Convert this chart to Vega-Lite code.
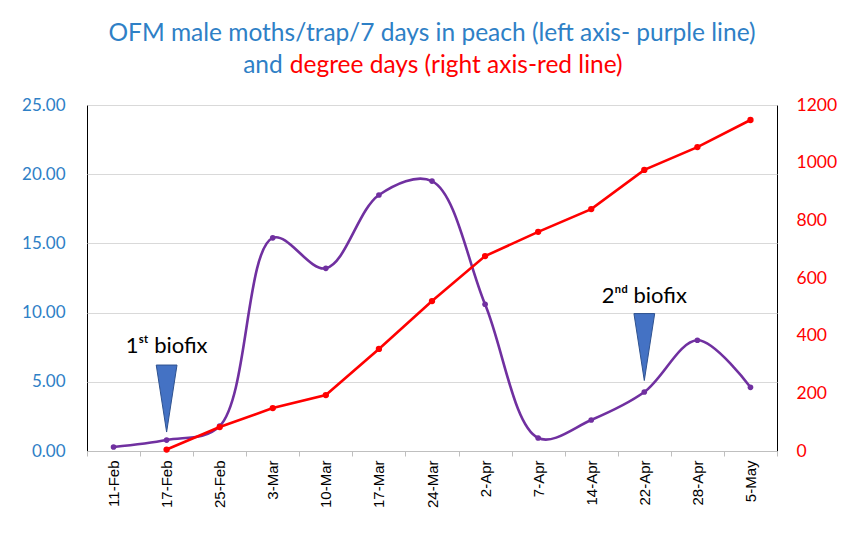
{
  "$schema": "https://vega.github.io/schema/vega-lite/v6.json",
  "width": 690,
  "height": 346,
  "autosize": {"type": "none"},
  "padding": {"left": 87, "top": 105, "right": 66, "bottom": 103},
  "background": "white",
  "title": {
    "text": "OFM male moths/trap/7 days in peach (left axis- purple line)",
    "color": "#2E80C6",
    "font": "Lato",
    "fontSize": 24.5,
    "fontWeight": "normal",
    "anchor": "middle",
    "offset": 7
  },
  "config": {
    "view": {"stroke": "#000000", "strokeWidth": 1},
    "axis": {"labelFont": "Lato", "titleFont": "Lato"}
  },
  "datasets": {
    "main": [
      {"date": "11-Feb", "moths": 0.29, "dd": null},
      {"date": "17-Feb", "moths": 0.79, "dd": 5},
      {"date": "25-Feb", "moths": 1.8, "dd": 83},
      {"date": "3-Mar", "moths": 15.4, "dd": 149},
      {"date": "10-Mar", "moths": 13.2, "dd": 194},
      {"date": "17-Mar", "moths": 18.5, "dd": 354},
      {"date": "24-Mar", "moths": 19.5, "dd": 520},
      {"date": "2-Apr", "moths": 10.6, "dd": 676},
      {"date": "7-Apr", "moths": 0.94, "dd": 760},
      {"date": "14-Apr", "moths": 2.24, "dd": 839},
      {"date": "22-Apr", "moths": 4.26, "dd": 975},
      {"date": "28-Apr", "moths": 8.0, "dd": 1054},
      {"date": "5-May", "moths": 4.6, "dd": 1148}
    ],
    "markers": [
      {"date": "17-Feb", "y": 3.79, "label": "1ˢᵗ biofix", "ly": 7.6},
      {"date": "22-Apr", "y": 7.51, "label": "2ⁿᵈ biofix", "ly": 11.2}
    ],
    "line2": [
      {"date": "3-Mar", "y": 27.8}
    ]
  },
  "encoding": {
    "x": {
      "field": "date",
      "type": "ordinal",
      "sort": null,
      "scale": {
        "domain": ["11-Feb", "17-Feb", "25-Feb", "3-Mar", "10-Mar", "17-Mar", "24-Mar", "2-Apr", "7-Apr", "14-Apr", "22-Apr", "28-Apr", "5-May"],
        "paddingInner": 0,
        "paddingOuter": 0
      },
      "axis": {
        "title": null,
        "labelAngle": -90,
        "labelFont": "Liberation Sans",
        "labelFontSize": 15,
        "labelColor": "#000000",
        "labelPadding": 4,
        "tickBand": "extent",
        "tickColor": "#bfbfbf",
        "tickSize": 5,
        "domainColor": "#bfbfbf",
        "grid": false
      }
    }
  },
  "layer": [
    {
      "layer": [
        {
          "data": {"name": "main"},
          "mark": {"type": "line", "interpolate": "catmull-rom", "color": "#7030A0", "strokeWidth": 2.6},
          "encoding": {
            "y": {
              "field": "moths",
              "type": "quantitative",
              "scale": {"domain": [0, 25], "nice": false, "zero": true},
              "axis": {
                "title": null,
                "values": [0, 5, 10, 15, 20, 25],
                "format": ".2f",
                "labelColor": "#2E80C6",
                "labelFontSize": 17,
                "labelPadding": 22,
                "ticks": false,
                "domain": false,
                "gridColor": "#d9d9d9",
                "grid": true
              }
            }
          }
        },
        {
          "data": {"name": "main"},
          "mark": {"type": "point", "filled": true, "color": "#7030A0", "size": 32, "opacity": 1},
          "encoding": {"y": {"field": "moths", "type": "quantitative"}}
        },
        {
          "data": {"name": "markers"},
          "mark": {"type": "point", "shape": "M -0.31 -1 L 0.31 -1 L 0 1 Z", "size": 4489, "filled": true, "fill": "#4472C4", "stroke": "#2F528F", "strokeWidth": 1, "opacity": 1},
          "encoding": {"y": {"field": "y", "type": "quantitative"}}
        },
        {
          "data": {"name": "markers"},
          "mark": {"type": "text", "font": "Lato", "fontSize": 22, "color": "#000000", "align": "center", "baseline": "middle"},
          "encoding": {"y": {"field": "ly", "type": "quantitative"}, "text": {"field": "label"}}
        },
        {
          "data": {"name": "line2"},
          "mark": {"type": "text", "font": "Lato", "fontSize": 24.5, "color": "#2E80C6", "align": "right", "baseline": "middle", "dx": 10},
          "encoding": {"y": {"field": "y", "type": "quantitative"}, "text": {"value": "and"}}
        },
        {
          "data": {"name": "line2"},
          "mark": {"type": "text", "font": "Lato", "fontSize": 24.5, "color": "#FF0000", "align": "left", "baseline": "middle", "dx": 17},
          "encoding": {"y": {"field": "y", "type": "quantitative"}, "text": {"value": "degree days (right axis-red line)"}}
        }
      ]
    },
    {
      "data": {"name": "main"},
      "transform": [{"filter": "datum.dd != null"}],
      "layer": [
        {
          "mark": {"type": "line", "color": "#FF0000", "strokeWidth": 2.6},
          "encoding": {
            "y": {
              "field": "dd",
              "type": "quantitative",
              "scale": {"domain": [0, 1200], "nice": false},
              "axis": {
                "orient": "right",
                "title": null,
                "values": [0, 200, 400, 600, 800, 1000, 1200],
                "format": "d",
                "labelColor": "#FF0000",
                "labelFontSize": 17.5,
                "labelPadding": 19,
                "ticks": false,
                "domain": false,
                "grid": false
              }
            }
          }
        },
        {
          "mark": {"type": "point", "filled": true, "color": "#FF0000", "size": 40, "opacity": 1},
          "encoding": {"y": {"field": "dd", "type": "quantitative"}}
        }
      ]
    }
  ],
  "resolve": {"scale": {"y": "independent"}}
}
